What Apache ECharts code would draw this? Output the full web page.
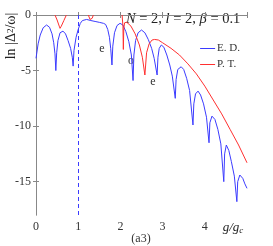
<!DOCTYPE html>
<html><head><meta charset="utf-8">
<script src="https://cdn.jsdelivr.net/npm/echarts@6/dist/echarts.min.js"></script>
<style>html,body{margin:0;padding:0;background:#fff}#c{width:273px;height:246px}</style>
</head><body><div id="c"></div>
<script>
// E. D. curve (g/g_c, ln|..|)
const edG = [0,0.05,0.1,0.17,0.25,0.32,0.38,0.42,0.45,0.47,
  0.49,0.52,0.57,0.64,0.7,0.76,0.82,0.86,0.88,
  0.9,0.95,1.0,1.05,1.1,1.2,1.3,1.4,1.5,1.6,1.65,1.7,1.74,1.77,1.8,
  1.82,1.86,1.92,1.99,2.06,2.13,2.2,2.26,2.3,
  2.32,2.36,2.42,2.5,2.58,2.66,2.74,2.8,2.87,
  2.89,2.92,2.97,3.03,3.1,3.17,3.23,3.3,
  3.32,3.36,3.44,3.5,3.57,3.64,3.72,
  3.74,3.78,3.84,3.9,3.97,4.04,4.1,
  4.12,4.17,4.24,4.31,4.38,4.45,
  4.47,4.51,4.57,4.63,4.7,4.76,
  4.78,4.83,4.9,4.95,5.0];
const edV = [-3.9,-2.6,-1.8,-1.15,-0.9,-1.1,-1.7,-2.5,-3.5,-5.0,
  -3.4,-2.3,-1.6,-1.45,-1.7,-2.3,-3.0,-3.8,-4.6,
  -3.2,-2.0,-1.3,-0.75,-0.5,-0.4,-0.5,-0.58,-0.66,-0.75,-0.85,-1.3,-2.0,-3.0,-4.5,
  -2.8,-1.6,-0.95,-0.75,-0.9,-1.5,-2.4,-3.6,-5.9,
  -3.6,-2.3,-1.6,-1.35,-1.6,-2.2,-3.0,-3.9,-5.4,
  -3.8,-3.0,-2.7,-2.9,-3.6,-4.5,-5.5,-7.5,
  -5.8,-4.9,-4.66,-4.9,-5.7,-6.8,-9.9,
  -8.0,-7.1,-6.85,-7.2,-8.0,-9.2,-11.5,
  -9.7,-9.1,-9.4,-10.3,-11.6,-15.0,
  -12.5,-11.7,-12.2,-13.2,-14.5,-16.8,
  -15.0,-14.4,-14.7,-15.2,-15.6];
// P. T. curve (null = above the plotted range)
const ptG = [0.45,0.5,0.55,0.57,0.6,0.66,0.72,0.9,
  1.24,1.28,1.3,1.33,1.36,1.7,
  2.04,2.06,2.07,2.08,2.1,2.15,2.25,2.35,2.45,2.52,2.58,2.62,2.68,2.75,2.81,2.9,3.0,3.2,3.4,3.6,3.8,4.0,4.2,4.4,4.6,4.8,5.0];
const ptV = [0,-0.45,-1.0,-1.2,-1.0,-0.5,0,null,
  0,-0.4,-0.54,-0.3,0,null,
  0,-1.0,-3.1,-1.2,-0.7,-0.65,-1.0,-1.7,-2.7,-3.8,-5.4,-3.4,-2.6,-2.25,-2.2,-2.25,-2.5,-3.0,-3.6,-4.4,-5.3,-6.4,-7.65,-8.9,-10.3,-11.7,-13.3];
const xTicks = [0,1,2,3,4];
const yTicks = [0,-5,-10,-15];
const criticalG = 1;
const seriesNames = ['E. D.','P. T.'];

const serif = '"Liberation Serif","DejaVu Serif",serif';
const axisCol = '#888';
const ed = edG.map((g,i)=>[g,edV[i]]);
const pt = ptG.map((g,i)=>[g,ptV[i]]);
const chart = echarts.init(document.getElementById('c'));
const baseX = {type:'value',min:0,max:5,interval:1,splitLine:{show:false},
  axisLine:{lineStyle:{color:axisCol}},axisTick:{inside:true,length:3,lineStyle:{color:axisCol}}};
const baseY = {type:'value',min:-18,max:0,splitLine:{show:false},
  axisLine:{lineStyle:{color:axisCol}},
  axisTick:{inside:true,length:3,customValues:yTicks,lineStyle:{color:axisCol}}};
chart.setOption({
  animation:false,
  grid:{left:36,right:26,top:15,bottom:31},
  xAxis:[Object.assign({},baseX,{position:'bottom',
      axisLabel:{fontFamily:serif,fontSize:12,color:'#333',margin:6,
        formatter:v=>xTicks.indexOf(v)>=0?String(v):''}}),
    Object.assign({},baseX,{position:'top',axisLabel:{show:false}})],
  yAxis:[Object.assign({},baseY,{position:'left',
      axisLabel:{fontFamily:serif,fontSize:12,color:'#333',margin:5,customValues:yTicks,
        formatter:v=>String(v)}}),
    Object.assign({},baseY,{position:'right',axisLabel:{show:false}})],
  legend:{orient:'vertical',right:28,top:38,itemWidth:15,itemHeight:8,itemGap:5,
    icon:'path://M0,4L15,4L15,5L0,5Z',
    textStyle:{fontFamily:serif,fontSize:11,color:'#333',padding:[0,0,0,-3]},
    data:seriesNames},
  series:[
    {name:seriesNames[0],type:'line',data:ed,showSymbol:false,symbol:'none',
      lineStyle:{color:'#3b3bff',width:1},itemStyle:{color:'#3b3bff'},clip:true,
      markLine:{silent:true,symbol:'none',label:{show:false},
        lineStyle:{color:'#3b3bff',type:[4,3],width:1},data:[{xAxis:criticalG}]}},
    {name:seriesNames[1],type:'line',data:pt,showSymbol:false,symbol:'none',connectNulls:false,
      lineStyle:{color:'#ff3030',width:1},itemStyle:{color:'#ff3030'},clip:true}
  ],
  graphic:[
    {type:'text',left:126,top:12,style:{rich:{i:{fontFamily:serif,fontStyle:'italic',fontSize:14.5,fill:'#222'},
      n:{fontFamily:serif,fontSize:14.5,fill:'#222'}},
      text:'{i|N}{n| = 2, }{i|l}{n| = 2, }{i|β}{n| = 0.1}'}},
    {type:'text',x:102,y:49,style:{text:'e',fontFamily:serif,fontSize:12,fill:'#333',align:'center',verticalAlign:'middle'}},
    {type:'text',x:131,y:61,style:{text:'o',fontFamily:serif,fontSize:12,fill:'#333',align:'center',verticalAlign:'middle'}},
    {type:'text',x:153,y:82,style:{text:'e',fontFamily:serif,fontSize:12,fill:'#333',align:'center',verticalAlign:'middle'}},
    {type:'text',x:233,y:228,style:{rich:{i:{fontFamily:serif,fontStyle:'italic',fontSize:13,fill:'#222'},
      s:{fontFamily:serif,fontStyle:'italic',fontSize:9,fill:'#222',verticalAlign:'bottom',padding:[6,0,0,0]}},
      text:'{i|g/g}{s|c}',align:'center',verticalAlign:'middle'}},
    {type:'text',x:141,y:239,style:{text:'(a3)',fontFamily:serif,fontSize:12,fill:'#333',align:'center',verticalAlign:'middle'}},
    {type:'text',x:11,y:36,rotation:Math.PI/2,style:{rich:{n:{fontFamily:serif,fontSize:14,fill:'#222'},
      s:{fontFamily:serif,fontSize:9,fill:'#222'}},
      text:'{n|ln |Δ}{s|2}{n|/ω|}',align:'center',verticalAlign:'middle'}}
  ]
});
</script></body></html>
